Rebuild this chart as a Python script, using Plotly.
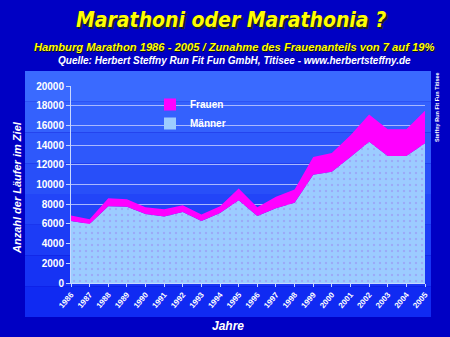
import plotly.graph_objects as go

years = [str(y) for y in range(1986, 2006)]
maenner = [6300, 6000, 7800, 7750, 7000, 6750, 7200, 6300, 7100, 8400,
           6800, 7600, 8150, 11000, 11300, 12800, 14350, 12900, 12900, 14200]
frauen = [550, 470, 800, 750, 700, 750, 700, 650, 700, 1200,
          900, 1150, 1350, 1800, 1900, 2200, 2750, 2700, 2700, 3300]

W, H = 450, 337
L, R, T, B = 71, 25, 86, 54
PW, PH = W - L - R, H - T - B

def px_x(p):
    return (p - L) / PW

def px_y(p):
    return (H - B - p) / PH

fig = go.Figure()

fig.add_trace(go.Scatter(
    x=years, y=maenner, stackgroup="one", mode="none",
    fillcolor="#9CCCFF",
    fillpattern=dict(shape=".", bgcolor="#9CCCFF", fgcolor="#9A88F0", size=6, solidity=0.12),
    showlegend=False, name="Männer"))
fig.add_trace(go.Scatter(
    x=years, y=frauen, stackgroup="one", mode="none",
    fillcolor="#FF00FF", showlegend=False, name="Frauen"))

# legend entries
fig.add_trace(go.Scatter(x=[None], y=[None], mode="markers", name="Frauen",
                         marker=dict(symbol="square", size=12, color="#FF00FF",
                                     line=dict(width=0))))
fig.add_trace(go.Scatter(x=[None], y=[None], mode="markers", name="Männer",
                         marker=dict(symbol="square", size=12, color="#9CCCFF",
                                     line=dict(width=0))))

# background panel bands
top_c = (0x3A, 0x6A, 0xFF)
bot_c = (0x10, 0x2A, 0xF2)
n = 8
y0p, y1p = 71, 317
shapes = []
for i in range(n):
    t = i / (n - 1)
    c = tuple(int(round(top_c[k] + (bot_c[k] - top_c[k]) * t)) for k in range(3))
    ya = y0p + (y1p - y0p) * i / n
    yb = y0p + (y1p - y0p) * (i + 1) / n
    shapes.append(dict(type="rect", xref="paper", yref="paper",
                       x0=px_x(25), x1=px_x(431), y0=px_y(yb), y1=px_y(ya),
                       fillcolor="rgb(%d,%d,%d)" % c, line=dict(width=0), layer="below"))

COND = "DejaVu Sans Condensed, Liberation Sans Narrow, Arial Narrow, sans-serif"

ann = []
ann.append(dict(text="Marathoni oder Marathonia ?", xref="paper", yref="paper",
                x=px_x(231), y=px_y(20),
                showarrow=False, xanchor="center", yanchor="middle",
                font=dict(family=COND, size=21, color="#FFFF00",
                          weight="bold", style="italic",
                          shadow="2px 2px 0px #202020")))
ann.append(dict(text="Hamburg Marathon 1986 - 2005 / Zunahme des Frauenanteils von 7 auf 19%",
                xref="paper", yref="paper", x=px_x(234), y=px_y(47),
                showarrow=False, xanchor="center", yanchor="middle",
                font=dict(family="Liberation Sans", size=11.2, color="#FFFF00",
                          weight="bold", style="italic",
                          shadow="1px 1px 0px #101010")))
ann.append(dict(text="Quelle: Herbert Steffny Run Fit Fun GmbH, Titisee - www.herbertsteffny.de",
                xref="paper", yref="paper", x=px_x(234), y=px_y(60.5),
                showarrow=False, xanchor="center", yanchor="middle",
                font=dict(family="Liberation Sans", size=10, color="white",
                          weight="bold", style="italic")))
ann.append(dict(text="Steffny Run Fit Fun Titisee", xref="paper", yref="paper",
                x=px_x(437), y=px_y(107), showarrow=False, textangle=-90,
                xanchor="center", yanchor="middle",
                font=dict(family="Liberation Sans", size=5.5, color="white", weight="bold")))
ann.append(dict(text="Anzahl der Läufer im Ziel", xref="paper", yref="paper",
                x=px_x(17), y=px_y(188), showarrow=False, textangle=-90,
                xanchor="center", yanchor="middle",
                font=dict(family="Liberation Sans", size=11, color="white",
                          weight="bold", style="italic")))
ann.append(dict(text="Jahre", xref="paper", yref="paper",
                x=px_x(228), y=px_y(326), showarrow=False,
                xanchor="center", yanchor="middle",
                font=dict(family="Liberation Sans", size=12, color="white",
                          weight="bold", style="italic")))

fig.update_layout(
    width=W, height=H,
    margin=dict(l=L, r=R, t=T, b=B, pad=0),
    paper_bgcolor="#0000C4",
    plot_bgcolor="rgba(0,0,0,0)",
    shapes=shapes,
    annotations=ann,
    showlegend=True,
    legend=dict(x=px_x(150), y=px_y(90), xanchor="left", yanchor="top",
                bgcolor="rgba(0,0,0,0)", borderwidth=0, traceorder="normal",
                font=dict(family="Liberation Sans", size=10, color="white", weight="bold"),
                itemwidth=30, tracegroupgap=0),
    xaxis=dict(type="category", range=[0, 19], showgrid=False,
               showline=True, linecolor="#C8D8FF", linewidth=1,
               ticks="outside", ticklen=3, tickcolor="#C8D8FF",
               tickangle=-50,
               tickfont=dict(family="Liberation Sans", size=8, color="white", weight="bold"),
               zeroline=False),
    yaxis=dict(range=[0, 20000], dtick=2000, tickformat="d", showgrid=True,
               gridcolor="#A8B8FF", gridwidth=1,
               showline=True, linecolor="#C8D8FF", linewidth=1,
               ticks="outside", ticklen=4, tickcolor="#C8D8FF",
               tickfont=dict(family="Liberation Sans", size=10, color="white", weight="bold"),
               zeroline=False),
)

fig.write_html("out.html")
